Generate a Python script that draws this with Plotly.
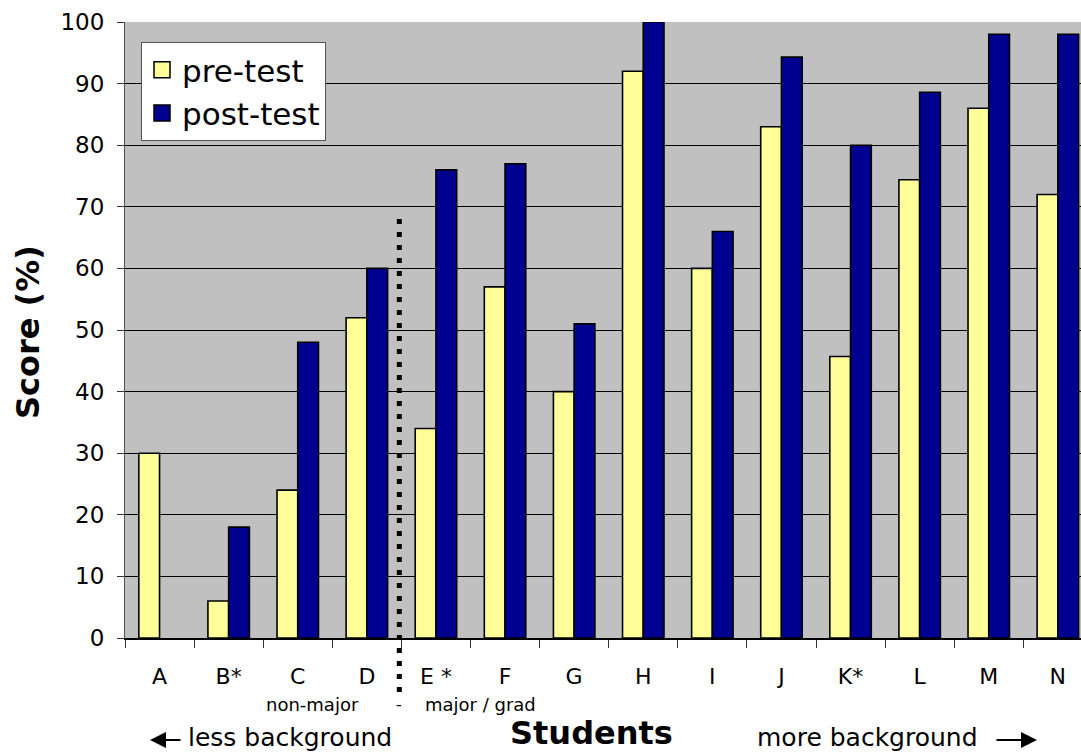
import plotly.graph_objects as go

students = ["A", "B*", "C", "D", "E *", "F", "G", "H", "I", "J", "K*", "L", "M", "N"]
pre_test = [30, 6, 24, 52, 34, 57, 40, 92, 60, 83, 45.7, 74.4, 86, 72]
post_test = [None, 18, 48, 60, 76, 77, 51, 100, 66, 94.3, 80, 88.6, 98, 98]
y_ticks = list(range(0, 101, 10))

W, H = 1081, 755
ML, MR, MT, MB = 125, 0, 22, 117
PW = W - ML - MR
PH = H - MT - MB
CAT_PX = 69.1  # pixel width of one category in reference

def px_x(p):
    return (p - ML) / PW

def px_y(p):
    return (H - MB - p) / PH

FONT = "DejaVu Sans"
PRE_COLOR = "#FFFF99"
POST_COLOR = "#000090"

fig = go.Figure()
fig.add_trace(go.Bar(
    x=students, y=pre_test, name="pre-test", showlegend=False,
    marker=dict(color=PRE_COLOR, line=dict(color="black", width=1.6)),
))
fig.add_trace(go.Bar(
    x=students, y=post_test, name="post-test", showlegend=False,
    marker=dict(color=POST_COLOR, line=dict(color="black", width=1.6)),
))
# legend-only entries with larger square swatches
for name, col in [("pre-test", PRE_COLOR), ("post-test", POST_COLOR)]:
    fig.add_trace(go.Scatter(
        x=[None], y=[None], mode="markers", name=name,
        marker=dict(symbol="square", size=16, color=col,
                    line=dict(color="black", width=1.5)),
    ))

x_end = -0.5 + PW / CAT_PX

fig.update_layout(
    width=W, height=H,
    margin=dict(l=ML, r=MR, t=MT, b=MB, pad=0),
    paper_bgcolor="white",
    plot_bgcolor="#C0C0C0",
    barmode="group", bargap=0.4, bargroupgap=0,
    font=dict(family=FONT, color="black"),
    showlegend=True,
    legend=dict(
        x=px_x(141), y=px_y(42), xanchor="left", yanchor="top",
        bgcolor="white", bordercolor="#555555", borderwidth=1,
        font=dict(size=31, family=FONT, color="black"),
        itemsizing="trace", tracegroupgap=0, itemwidth=30,
    ),
    xaxis=dict(
        type="category", range=[-0.5, x_end],
        showgrid=False, tickson="boundaries",
        ticks="outside", ticklen=8, tickcolor="#333333", tickwidth=1,
        showline=True, linecolor="black", linewidth=1.5,
        tickfont=dict(size=22, family=FONT, color="black"),
        ticklabelstandoff=18,
    ),
    yaxis=dict(
        range=[0, 100], tickvals=y_ticks,
        showgrid=True, gridcolor="black", gridwidth=1,
        ticks="outside", ticklen=7, tickcolor="#333333", tickwidth=1,
        showline=True, linecolor="#555555", linewidth=1,
        tickfont=dict(size=23, family=FONT, color="black"),
        ticklabelstandoff=8, zeroline=False,
    ),
)

# dotted divider between non-major and major groups
fig.add_shape(
    type="line", xref="x", yref="paper",
    x0=3.47, x1=3.47, y0=px_y(219), y1=px_y(697),
    line=dict(color="black", width=5, dash="5px,8px"),
)

annots = [
    dict(text="non-major", x=px_x(312), y=px_y(704), size=18),
    dict(text="major / grad", x=px_x(480), y=px_y(704), size=18),
    dict(text="-", x=px_x(399), y=px_y(704), size=16),
    dict(text="less background", x=px_x(290), y=px_y(737), size=25),
    dict(text="more background", x=px_x(867), y=px_y(737), size=25),
    dict(text="<b>Students</b>", x=px_x(591), y=px_y(733), size=32),
]
for a in annots:
    fig.add_annotation(
        text=a["text"], x=a["x"], y=a["y"], xref="paper", yref="paper",
        xanchor="center", yanchor="middle", showarrow=False,
        font=dict(size=a["size"], family=FONT, color="black"),
    )

fig.add_annotation(
    text="<b>Score (%)</b>", x=px_x(28), y=px_y(332), xref="paper", yref="paper",
    xanchor="center", yanchor="middle", showarrow=False, textangle=-90,
    font=dict(size=32, family=FONT, color="black"),
)

# arrows
fig.add_annotation(
    text="", x=px_x(150), y=px_y(740), xref="paper", yref="paper",
    ax=32, ay=0, axref="pixel", ayref="pixel", showarrow=True,
    arrowhead=2, arrowsize=1.6, arrowwidth=2, arrowcolor="black",
)
fig.add_annotation(
    text="", x=px_x(1037), y=px_y(740), xref="paper", yref="paper",
    ax=-42, ay=0, axref="pixel", ayref="pixel", showarrow=True,
    arrowhead=2, arrowsize=1.6, arrowwidth=2, arrowcolor="black",
)

fig.write_html(
    "out.html",
    config={"displayModeBar": False},
    post_script="document.body.style.margin='0px';document.body.style.overflow='hidden';",
)
